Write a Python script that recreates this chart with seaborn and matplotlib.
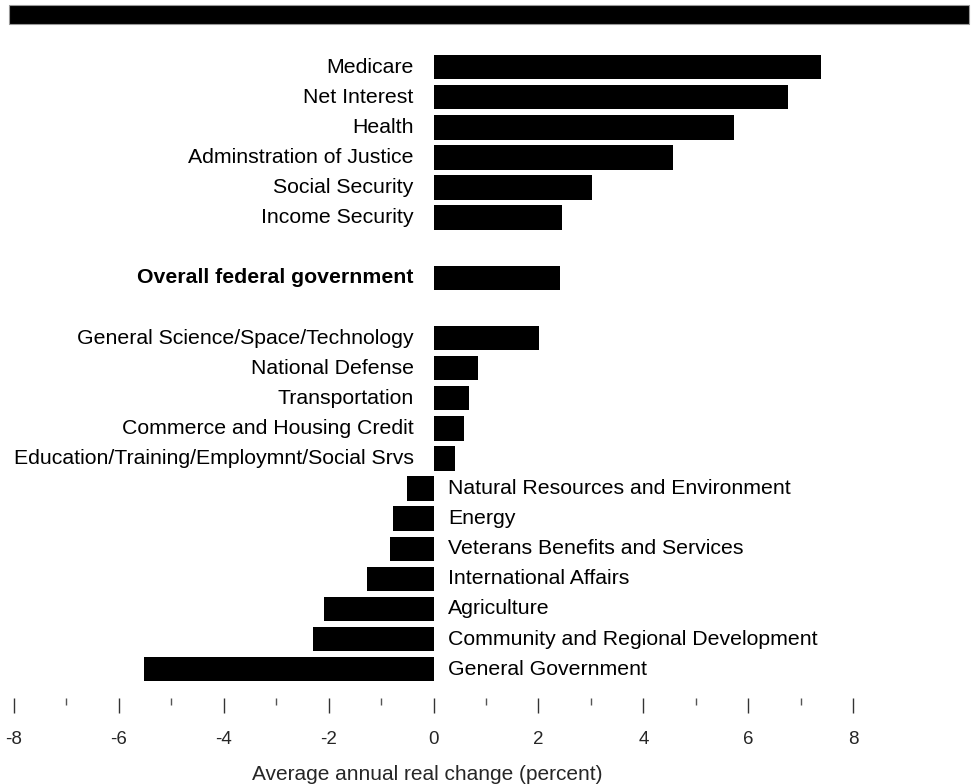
import matplotlib
matplotlib.use("Agg")
import matplotlib.pyplot as plt
from matplotlib.patches import Rectangle
from matplotlib.ticker import FixedLocator
import seaborn as sns
import pandas as pd
import numpy as np

categories = [
    "Medicare", "Net Interest", "Health", "Adminstration of Justice",
    "Social Security", "Income Security", "",
    "Overall federal government", " ",
    "General Science/Space/Technology", "National Defense", "Transportation",
    "Commerce and Housing Credit", "Education/Training/Employmnt/Social Srvs",
    "Natural Resources and Environment", "Energy", "Veterans Benefits and Services",
    "International Affairs", "Agriculture", "Community and Regional Development",
    "General Government",
]
values = [
    7.39, 6.75, 5.72, 4.57, 3.03, 2.44, np.nan,
    2.42, np.nan,
    2.02, 0.84, 0.67, 0.59, 0.40,
    -0.50, -0.78, -0.84, -1.26, -2.08, -2.29, -5.53,
]
bold_label = "Overall federal government"
major_ticks = [-8, -6, -4, -2, 0, 2, 4, 6, 8]
minor_ticks = [-7, -5, -3, -1, 1, 3, 5, 7]
x_label = "Average annual real change (percent)"

sns.set_style("white")
plt.rcParams["font.family"] = ["Liberation Sans", "DejaVu Sans"]

df = pd.DataFrame({"category": categories, "value": values})

fig = plt.figure(figsize=(9.75, 7.84), dpi=100)
ax = fig.add_axes([3.5 / 975, 1 - 698 / 784, 965 / 975, 667 / 784])

sns.barplot(data=df.dropna(), x="value", y="category", order=categories,
            orient="h", color="black", saturation=1, width=0.81, ax=ax,
            edgecolor="none", errorbar=None)

ax.set_xlim(-8.2, 10.2)
ax.set_ylim(20.96, -1.2)

label_size = 15.3
for i, (cat, val) in enumerate(zip(categories, values)):
    if not cat.strip() or np.isnan(val):
        continue
    weight = "bold" if cat == bold_label else "normal"
    if val >= 0:
        ax.annotate(cat, xy=(0, i), xytext=(-14.4, 0), textcoords="offset points",
                    ha="right", va="center", fontsize=label_size,
                    fontweight=weight, color="black")
    else:
        ax.annotate(cat, xy=(0, i), xytext=(10.5, 0), textcoords="offset points",
                    ha="left", va="center", fontsize=label_size,
                    fontweight=weight, color="black")

for s in ax.spines.values():
    s.set_visible(False)
ax.set_yticks([])
ax.set_ylabel("")
ax.set_xticks(major_ticks)
ax.set_xticklabels([str(t) for t in major_ticks])
ax.xaxis.set_minor_locator(FixedLocator(minor_ticks))
ax.tick_params(axis="x", which="major", direction="out", length=10.8, width=1,
               color="#333333", pad=13, labelsize=13.5, bottom=True)
ax.tick_params(axis="x", which="minor", direction="out", length=5, width=1,
               color="#555555", bottom=True)
ax.set_xlabel(x_label, fontsize=15)
ax.xaxis.set_label_coords((-0.12 + 8.2) / 18.4, -0.1)

fig.patches.append(Rectangle((9 / 975, 1 - 24 / 784), 960 / 975, 19 / 784,
                             transform=fig.transFigure, facecolor="black",
                             edgecolor="#999999", linewidth=0.8))

fig.savefig("out.png", dpi=100)
